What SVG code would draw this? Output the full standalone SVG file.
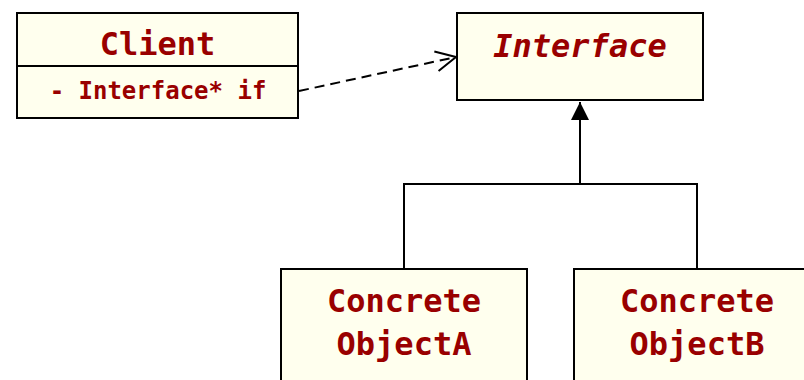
<svg xmlns="http://www.w3.org/2000/svg" width="804" height="380" viewBox="0 0 804 380">
<style>
.box{fill:#FFFFEE;stroke:#000;stroke-width:2}
.t{font-family:"DejaVu Sans Mono","Liberation Mono",monospace;font-weight:bold;fill:#990000;text-anchor:middle}
.title{font-size:32px}
.attr{font-size:24px}
.it{font-style:italic}
.line{fill:none;stroke:#000;stroke-width:2}
</style>
<defs>
<marker id="open" markerWidth="24" markerHeight="24" refX="21" refY="11" orient="auto" markerUnits="userSpaceOnUse">
<path d="M1,1 L21,11 L1,21" fill="none" stroke="#000" stroke-width="2"/>
</marker>
<marker id="tri" markerWidth="20" markerHeight="20" refX="18" refY="9" orient="auto" markerUnits="userSpaceOnUse">
<path d="M0,0 L18,9 L0,18 Z" fill="#000"/>
</marker>
</defs>
<g id="connectors">
<path class="line" d="M299,91 L456,57" stroke-dasharray="10,6" marker-end="url(#open)"/>
<path class="line" d="M404,269 L404,184 L697,184 L697,269"/>
<path class="line" d="M580,184 L580,102" marker-end="url(#tri)"/>
</g>
<g id="client">
<rect class="box" x="17" y="13" width="281" height="105"/>
<line x1="17" y1="66" x2="298" y2="66" stroke="#000" stroke-width="2"/>
<text class="t title" x="157.5" y="55">Client</text>
<text class="t attr" x="158" y="99">- Interface* if</text>
</g>
<g id="interface">
<rect class="box" x="457" y="13" width="246" height="87"/>
<text class="t title it" x="580" y="57">Interface</text>
</g>
<g id="concreteA">
<rect class="box" x="281" y="269" width="246" height="130"/>
<text class="t title" x="404" y="312">Concrete</text>
<text class="t title" x="404" y="355">ObjectA</text>
</g>
<g id="concreteB">
<rect class="box" x="574" y="269" width="246" height="130"/>
<text class="t title" x="697" y="312">Concrete</text>
<text class="t title" x="697" y="355">ObjectB</text>
</g>
</svg>
